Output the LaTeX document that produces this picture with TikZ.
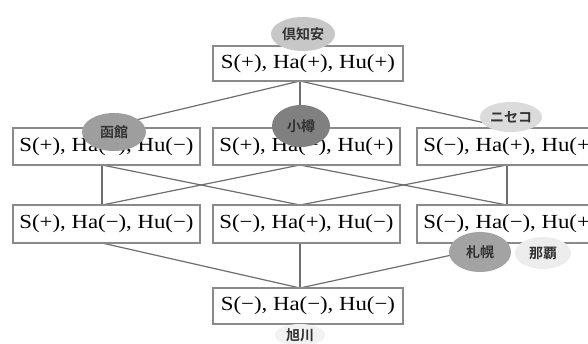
\documentclass[tikz,border=0pt]{standalone}
\usepackage{fontspec}
\usepackage{graphicx}
\setmainfont{Liberation Serif}
\newfontfamily\jpfont{Noto Sans CJK JP}[BoldFont={Noto Sans CJK JP Bold}]
\usetikzlibrary{shapes.geometric}
\definecolor{edgegray}{HTML}{6E6E6E}
\definecolor{boxgray}{HTML}{8A8A8A}
\begin{document}
\begin{tikzpicture}[x=1pt,y=-1pt,
  statebox/.style={draw=boxgray,line width=1.1pt,fill=white,minimum width=187pt,minimum height=37pt,inner sep=0pt,
    font=\fontsize{20}{22}\selectfont},
  edge/.style={draw=edgegray,line width=1.2pt},
  tag/.style={ellipse,inner sep=0pt,minimum width=60pt,minimum height=36pt,font=\jpfont\bfseries\fontsize{14}{15}\selectfont,text=black!80}]
\useasboundingbox (0,0) rectangle (588,344);
\clip (0,0) rectangle (588,344);
\newcommand{\sx}[1]{\scalebox{1.14}[1]{#1}}
% attachment coordinates
\coordinate (tS) at (300,81);
\coordinate (aN) at (102,128); \coordinate (bN) at (300,128); \coordinate (cN) at (507,128);
\coordinate (aS) at (102,165); \coordinate (bS) at (300,165); \coordinate (cS) at (507,165);
\coordinate (dN) at (102,205); \coordinate (eN) at (300,205); \coordinate (fN) at (507,205);
\coordinate (dS) at (102,243); \coordinate (eS) at (300,243); \coordinate (fS) at (507,243);
\coordinate (bottomN) at (300,288);
% edges
\draw[edge] (tS) -- (aN);
\draw[edge] (tS) -- (bN);
\draw[edge] (tS) -- (cN);
\draw[edge] (aS) -- (dN);
\draw[edge] (aS) -- (eN);
\draw[edge] (bS) -- (dN);
\draw[edge] (bS) -- (fN);
\draw[edge] (cS) -- (eN);
\draw[edge] (cS) -- (fN);
\draw[edge] (dS) -- (bottomN);
\draw[edge] (eS) -- (bottomN);
\draw[edge] (fS) -- (bottomN);
% boxes
\node[statebox,minimum width=190pt,minimum height=35pt] (top) at (308,63.5) {\sx{S(+), Ha(+), Hu(+)}};
\node[statebox] (a) at (106.5,146.5) {\sx{S(+), Ha(+), Hu(−)}};
\node[statebox] (b) at (306.5,146.5) {\sx{S(+), Ha(−), Hu(+)}};
\node[statebox] (c) at (510.5,146.5) {\sx{S(−), Ha(+), Hu(+)}};
\node[statebox,minimum height=38pt] (d) at (106.5,224) {\sx{S(+), Ha(−), Hu(−)}};
\node[statebox,minimum height=38pt] (e) at (306.5,224) {\sx{S(−), Ha(+), Hu(−)}};
\node[statebox,minimum height=38pt] (f) at (510.5,224) {\sx{S(−), Ha(−), Hu(+)}};
\node[statebox,minimum width=190pt,minimum height=36pt] (bottom) at (308,306) {\sx{S(−), Ha(−), Hu(−)}};
% tags
\node[tag,fill=black!22,minimum width=64pt,minimum height=34pt] (kutchan) at (303,34) {倶知安};
\node[tag,fill=black!38,minimum width=64pt,minimum height=38pt] (hakodate) at (114,132) {函館};
\node[tag,fill=black!50,minimum width=58pt,minimum height=42pt] (otaru) at (301,126) {小樽};
\node[tag,fill=black!14,minimum width=62pt,minimum height=30pt] (niseko) at (511,117) {ニセコ};
\node[tag,fill=black!36,minimum width=62pt,minimum height=40pt] (sapporo) at (480,252) {札幌};
\node[tag,fill=black!7,minimum width=56pt,minimum height=32pt] (naha) at (543,253) {那覇};
\node[tag,fill=black!5,minimum width=50pt,minimum height=22pt] (asahikawa) at (300,335) {旭川};
\end{tikzpicture}
\end{document}
